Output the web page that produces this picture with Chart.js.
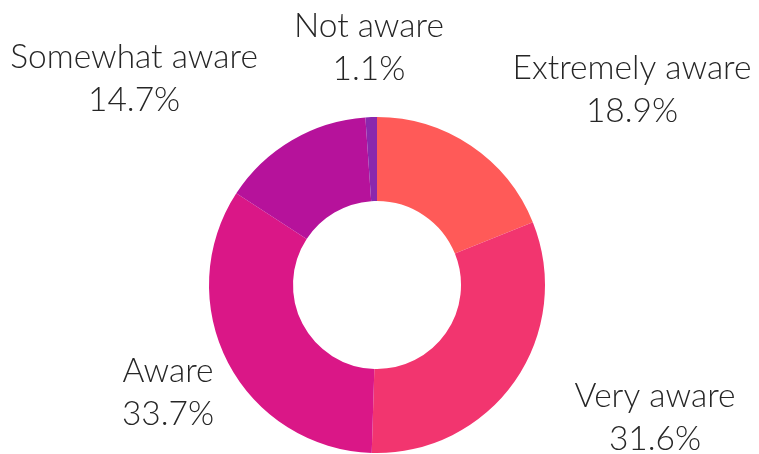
<!DOCTYPE html>
<html>
<head>
<meta charset="utf-8">
<script src="https://cdn.jsdelivr.net/npm/chart.js@4/dist/chart.umd.min.js"></script>
<style>
  html, body { margin: 0; padding: 0; background: #ffffff; }
  #wrap { width: 759px; height: 454px; position: relative; }
</style>
</head>
<body>
<div id="wrap"><canvas id="c" width="759" height="454"></canvas></div>
<script>
const categories = ["Extremely aware", "Very aware", "Aware", "Somewhat aware", "Not aware"];
const shares = [18.9, 31.6, 33.7, 14.7, 1.1];
const sliceColors = ["#FF5A58", "#F2356F", "#DA1787", "#B6129B", "#8A28AD"];

// Label block placement, relative to the doughnut centre, in units of the outer radius
const labelPlacement = [
  [1.518, -1.226],
  [1.655, 0.726],
  [-1.244, 0.577],
  [-1.446, -1.292],
  [-0.048, -1.476]
];

const outsideLabels = {
  id: 'outsideLabels',
  afterDatasetsDraw(chart) {
    const ctx = chart.ctx;
    const meta = chart.getDatasetMeta(0);
    ctx.save();
    ctx.font = '300 33.5px Lato, "Open Sans", sans-serif';
    ctx.fillStyle = '#262626';
    ctx.textAlign = 'center';
    ctx.textBaseline = 'alphabetic';
    meta.data.forEach((arc, i) => {
      const R = arc.outerRadius;
      const x = arc.x + labelPlacement[i][0] * R;
      const y = arc.y + labelPlacement[i][1] * R;
      ctx.fillText(chart.data.labels[i], x, y);
      ctx.fillText(chart.data.datasets[0].data[i].toFixed(1) + '%', x, y + 43);
    });
    ctx.restore();
  }
};

new Chart(document.getElementById('c'), {
  type: 'doughnut',
  data: {
    labels: categories,
    datasets: [{
      data: shares,
      backgroundColor: sliceColors,
      borderWidth: 0
    }]
  },
  options: {
    responsive: false,
    animation: false,
    cutout: '50%',
    layout: { padding: { top: 117, bottom: 1, left: 0, right: 5 } },
    plugins: {
      legend: { display: false },
      tooltip: { enabled: false }
    }
  },
  plugins: [outsideLabels]
});
</script>
</body>
</html>
